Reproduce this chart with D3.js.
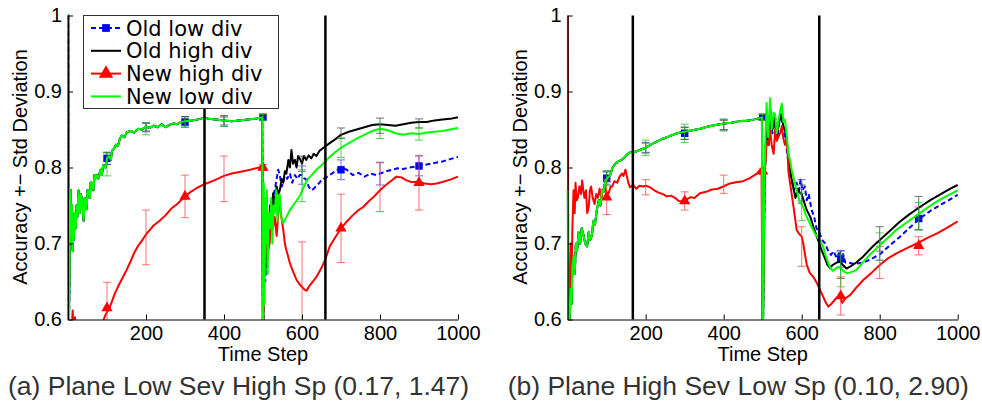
<!DOCTYPE html>
<html>
<head>
<meta charset="utf-8">
<script src="https://cdn.jsdelivr.net/npm/d3@7"></script>
<style>
  body { margin: 0; background: #fff; }
  text { font-family: "Liberation Sans", Arial, sans-serif; }
</style>
</head>
<body>
<svg id="chart" width="982" height="408"></svg>
<script>
// ---------- data ----------
// time steps with a marker on the blue / red series
const markerSteps = [100, 300, 500, 700, 900];
const xTicks = [200, 400, 600, 800, 1000];
const yTicks = [0.6, 0.7, 0.8, 0.9, 1];
const seriesNames = ["Old low div", "Old high div", "New high div", "New low div"];

// panel (a): shared part of the three overlapping curves before step 500
const leftEarly = [[0,1.0],[1,1.0],[2,0.58],[4,0.66],[5,0.74],[6,0.70],[7,0.77],[8,0.72],[10,0.75],[12,0.69],
  [14,0.73],[15,0.705],[17,0.74],[20,0.72],[22,0.75],[24,0.735],[27,0.77],[30,0.74],[33,0.765],[35,0.76],
  [38,0.745],[40,0.73],[43,0.76],[45,0.755],[48,0.745],[50,0.77],[53,0.77],[56,0.76],[58,0.78],[62,0.78],
  [65,0.77],[68,0.79],[70,0.785],[74,0.79],[78,0.785],[83,0.797],[87,0.79],[90,0.803],[96,0.80],[100,0.812],
  [105,0.815],[110,0.81],[113,0.822],[118,0.825],[123,0.83],[128,0.828],[133,0.838],[138,0.842],[145,0.84],
  [150,0.846],[160,0.848],[170,0.846],[180,0.851],[190,0.85],[200,0.854],[210,0.852],[220,0.855],[230,0.853],
  [240,0.857],[250,0.853],[260,0.856],[270,0.858],[280,0.857],[290,0.86],[300,0.861],[320,0.862],[340,0.864],
  [350,0.866],[360,0.864],[380,0.863],[400,0.862],[420,0.861],[440,0.862],[460,0.863],[480,0.864],[498,0.866]];

const leftBlueLate = [[500,0.55],[503,0.70],[506,0.65],[510,0.72],[515,0.70],[520,0.74],[525,0.76],[530,0.77],
  [535,0.785],[539,0.797],[543,0.79],[548,0.775],[552,0.78],[557,0.795],[562,0.785],[569,0.792],[575,0.78],
  [582,0.79],[588,0.785],[594,0.79],[600,0.79],[605,0.786],[611,0.784],[617,0.775],[624,0.77],[630,0.772],
  [637,0.776],[645,0.78],[652,0.785],[659,0.786],[671,0.79],[685,0.795],[700,0.80],[715,0.797],[730,0.79],
  [745,0.793],[760,0.788],[775,0.792],[790,0.79],[800,0.792],[815,0.795],[830,0.797],[845,0.799],[860,0.798],
  [875,0.80],[890,0.801],[900,0.802],[920,0.804],[940,0.806],[960,0.808],[980,0.811],[1000,0.814]];

const leftBlackLate = [[500,0.55],[503,0.72],[506,0.66],[510,0.74],[514,0.70],[518,0.75],[522,0.73],[526,0.766],
  [530,0.75],[535,0.775],[540,0.765],[543,0.77],[548,0.785],[552,0.78],[556,0.795],[560,0.792],[565,0.81],
  [569,0.80],[573,0.823],[577,0.805],[582,0.81],[586,0.80],[590,0.815],[594,0.812],[600,0.805],[605,0.815],
  [611,0.81],[617,0.816],[624,0.812],[630,0.818],[637,0.815],[645,0.822],[655,0.826],[671,0.832],[685,0.837],
  [700,0.843],[720,0.847],[740,0.85],[760,0.853],[780,0.856],[800,0.857],[820,0.856],[840,0.855],[860,0.857],
  [880,0.859],[900,0.86],[920,0.86],[940,0.862],[960,0.863],[980,0.864],[1000,0.866]];

const leftGreenLate = [[500,0.55],[502,0.78],[504,0.62],[506,0.76],[508,0.70],[510,0.77],[512,0.66],[515,0.74],
  [518,0.72],[521,0.76],[524,0.70],[527,0.75],[530,0.74],[534,0.77],[537,0.73],[540,0.76],[543,0.765],[546,0.74],
  [549,0.73],[552,0.727],[560,0.735],[570,0.745],[580,0.752],[594,0.762],[605,0.775],[615,0.785],[625,0.79],
  [637,0.797],[650,0.803],[660,0.808],[671,0.814],[685,0.82],[700,0.826],[720,0.832],[740,0.838],[760,0.843],
  [780,0.848],[800,0.851],[820,0.849],[840,0.845],[860,0.843],[880,0.845],[900,0.844],[920,0.846],[940,0.847],
  [960,0.848],[980,0.85],[1000,0.852]];

const leftRed = [[0,0.94],[1,0.58],[10,0.59],[12,0.612],[14,0.59],[18,0.603],[20,0.58],[85,0.59],[95,0.605],
  [100,0.61],[105,0.614],[110,0.62],[120,0.634],[130,0.645],[140,0.655],[150,0.665],[160,0.676],[170,0.688],
  [180,0.697],[190,0.704],[200,0.712],[210,0.718],[220,0.724],[235,0.73],[250,0.737],[265,0.746],[280,0.752],
  [300,0.762],[315,0.768],[330,0.773],[350,0.778],[375,0.783],[400,0.789],[420,0.792],[440,0.794],[467,0.797],
  [490,0.80],[498,0.803],[500,0.55],[503,0.72],[506,0.68],[510,0.74],[513,0.69],[517,0.70],[521,0.74],[525,0.72],
  [530,0.735],[535,0.71],[540,0.745],[543,0.753],[547,0.735],[552,0.718],[556,0.70],[560,0.691],[565,0.682],
  [569,0.674],[578,0.662],[586,0.652],[596,0.645],[607,0.639],[612,0.638],[620,0.645],[628,0.65],[637,0.656],
  [648,0.666],[659,0.678],[671,0.696],[685,0.708],[700,0.72],[715,0.729],[730,0.737],[745,0.744],[757,0.748],
  [770,0.755],[785,0.762],[800,0.77],[815,0.777],[830,0.783],[842,0.788],[855,0.787],[868,0.783],[880,0.781],
  [900,0.781],[915,0.779],[930,0.778],[945,0.779],[960,0.781],[980,0.784],[1000,0.788]];

// error bars: [step, mean, std]
const leftBlueErr = [[100,0.812,0.008],[200,0.853,0.006],[300,0.86,0.007],[400,0.861,0.007],[500,0.866,0.004],
  [600,0.79,0.012],[700,0.797,0.013],[800,0.792,0.015],[900,0.802,0.013]];
const leftBlackErr = [[100,0.812,0.008],[200,0.853,0.005],[300,0.861,0.006],[400,0.862,0.006],[500,0.866,0.004],
  [600,0.805,0.01],[700,0.845,0.007],[800,0.855,0.01],[900,0.858,0.006]];
const leftRedErr = [[100,0.615,0.034],[200,0.708,0.036],[300,0.762,0.028],[400,0.785,0.03],[500,0.80,0.004],
  [600,0.645,0.057],[700,0.72,0.045],[800,0.774,0.032],[900,0.78,0.036]];
const leftGreenErr = [[100,0.804,0.015],[200,0.851,0.008],[300,0.859,0.006],[400,0.86,0.006],[500,0.866,0.004],
  [600,0.776,0.021],[700,0.826,0.013],[800,0.848,0.01],[900,0.844,0.008]];
const leftEvents = [350, 660];

// panel (b)
const rightEarly = [[0,0.77],[2,0.58],[5,0.6],[8,0.64],[10,0.62],[12,0.67],[15,0.683],[18,0.66],[21,0.70],
  [24,0.69],[28,0.715],[32,0.70],[36,0.72],[41,0.71],[45,0.70],[50,0.696],[54,0.715],[58,0.705],[62,0.71],
  [66,0.73],[70,0.725],[75,0.745],[80,0.757],[84,0.75],[88,0.77],[92,0.768],[97,0.783],[103,0.787],[109,0.79],
  [115,0.80],[122,0.805],[130,0.808],[139,0.81],[150,0.816],[160,0.82],[170,0.82],[185,0.823],[200,0.826],
  [220,0.832],[240,0.837],[260,0.841],[280,0.845],[300,0.847],[320,0.849],[340,0.851],[360,0.854],[380,0.856],
  [400,0.858],[420,0.859],[440,0.861],[467,0.862],[485,0.864],[498,0.866]];

const rightBlueLate = [[500,0.55],[505,0.78],[510,0.86],[515,0.83],[520,0.87],[525,0.845],[532,0.865],[538,0.84],
  [545,0.87],[552,0.85],[558,0.84],[565,0.81],[572,0.79],[580,0.77],[587,0.78],[592,0.765],[597,0.784],
  [602,0.77],[608,0.775],[613,0.757],[618,0.765],[625,0.745],[632,0.735],[638,0.72],[645,0.715],[652,0.705],
  [660,0.70],[668,0.69],[675,0.685],[682,0.69],[690,0.68],[697,0.69],[700,0.68],[706,0.686],[712,0.675],
  [720,0.675],[735,0.673],[758,0.675],[780,0.68],[801,0.686],[825,0.697],[850,0.708],[875,0.72],[903,0.733],
  [930,0.743],[960,0.752],[1000,0.764]];

const rightBlackLate = [[500,0.55],[505,0.78],[510,0.87],[515,0.83],[520,0.875],[525,0.85],[530,0.865],[536,0.84],
  [541,0.86],[547,0.87],[553,0.855],[559,0.845],[565,0.82],[572,0.79],[578,0.775],[584,0.76],[590,0.772],
  [596,0.766],[600,0.765],[606,0.755],[612,0.745],[617,0.74],[622,0.735],[630,0.722],[638,0.71],[645,0.70],
  [652,0.69],[660,0.68],[666,0.672],[672,0.668],[680,0.672],[690,0.675],[698,0.676],[705,0.672],[715,0.667],
  [725,0.67],[740,0.675],[758,0.683],[780,0.695],[801,0.705],[825,0.716],[850,0.728],[875,0.738],[903,0.748],
  [930,0.757],[960,0.766],[980,0.772],[1000,0.777]];

const rightGreenLate = [[500,0.55],[505,0.80],[510,0.885],[514,0.84],[519,0.891],[523,0.85],[528,0.872],
  [532,0.87],[536,0.845],[540,0.86],[545,0.875],[549,0.884],[553,0.86],[557,0.863],[562,0.84],[566,0.818],
  [570,0.81],[574,0.797],[580,0.785],[587,0.77],[595,0.755],[604,0.748],[610,0.738],[617,0.731],[625,0.722],
  [634,0.713],[645,0.705],[655,0.696],[662,0.683],[672,0.669],[680,0.664],[690,0.668],[698,0.669],[706,0.664],
  [715,0.661],[725,0.662],[740,0.665],[758,0.676],[780,0.688],[801,0.698],[820,0.707],[843,0.718],[870,0.728],
  [903,0.74],[925,0.748],[946,0.755],[970,0.762],[1000,0.77]];

const rightRed = [[0,1.0],[2,0.58],[3,0.64],[5,0.62],[8,0.70],[10,0.656],[12,0.72],[15,0.77],[18,0.74],[20,0.78],
  [23,0.757],[26,0.76],[30,0.775],[34,0.765],[37,0.783],[40,0.77],[43,0.76],[47,0.77],[50,0.74],[54,0.748],
  [57,0.77],[60,0.775],[64,0.76],[69,0.752],[73,0.765],[77,0.76],[82,0.772],[86,0.758],[90,0.77],[95,0.776],
  [100,0.766],[105,0.766],[110,0.775],[114,0.775],[120,0.782],[127,0.78],[133,0.788],[139,0.792],[143,0.789],
  [148,0.797],[152,0.788],[156,0.779],[160,0.774],[168,0.777],[176,0.772],[184,0.776],[193,0.775],[200,0.776],
  [211,0.774],[222,0.77],[233,0.767],[244,0.765],[254,0.762],[265,0.763],[275,0.76],[285,0.756],[296,0.755],
  [305,0.758],[315,0.761],[325,0.76],[339,0.766],[355,0.768],[370,0.771],[385,0.772],[399,0.775],[416,0.779],
  [435,0.781],[450,0.782],[467,0.786],[485,0.792],[497,0.799],[500,0.55],[503,0.78],[506,0.801],[510,0.83],
  [515,0.83],[519,0.849],[523,0.83],[528,0.818],[532,0.85],[536,0.835],[540,0.84],[545,0.846],[549,0.854],
  [553,0.838],[557,0.83],[562,0.84],[566,0.795],[570,0.78],[574,0.766],[580,0.745],[587,0.718],[593,0.713],
  [600,0.709],[604,0.70],[608,0.687],[613,0.672],[621,0.661],[630,0.656],[639,0.648],[647,0.639],[655,0.63],
  [662,0.622],[668,0.617],[675,0.62],[685,0.626],[692,0.63],[698,0.63],[704,0.622],[712,0.628],[724,0.632],
  [740,0.642],[758,0.652],[780,0.662],[801,0.672],[820,0.68],[843,0.687],[870,0.694],[903,0.702],[925,0.708],
  [946,0.713],[970,0.72],[1000,0.729]];

const rightBlueErr = [[100,0.786,0.008],[200,0.826,0.006],[300,0.845,0.008],[400,0.856,0.007],[500,0.866,0.004],
  [600,0.77,0.014],[700,0.68,0.011],[800,0.69,0.012],[900,0.733,0.015]];
const rightBlackErr = [[100,0.788,0.007],[200,0.826,0.007],[300,0.845,0.008],[400,0.856,0.006],[500,0.866,0.004],
  [600,0.765,0.012],[700,0.672,0.018],[800,0.706,0.016],[900,0.74,0.022]];
const rightRedErr = [[100,0.761,0.023],[200,0.774,0.01],[300,0.756,0.012],[400,0.778,0.012],[500,0.795,0.004],
  [600,0.696,0.026],[700,0.631,0.025],[800,0.675,0.021],[900,0.697,0.012]];
const rightGreenErr = [[100,0.786,0.01],[200,0.826,0.01],[300,0.845,0.012],[400,0.856,0.008],[500,0.866,0.004],
  [600,0.748,0.018],[700,0.664,0.021],[800,0.696,0.018],[900,0.736,0.018]];
const rightEvents = [167, 645];

const captions = ["(a) Plane Low Sev High Sp (0.17, 1.47)", "(b) Plane High Sev Low Sp (0.10, 2.90)"];

// ---------- drawing ----------
const svg = d3.select("#chart");
const colors = ["#0000ff", "#000000", "#ff0000", "#00ff00"];
const barColors = ["#4040ff", "#444444", "#ff4040", "#20c020"];

// one panel: series in legend order (blue, black, red, green)
function drawPanel(left, series, errs, events, caption, showLegend, id)
{
  const x = d3.scaleLinear().domain([0, 1000]).range([left, left + 390]);
  const y = d3.scaleLinear().domain([0.6, 1]).range([319.5, 15.5]);
  const g = svg.append("g");

  // clip everything to the plot box
  g.append("clipPath").attr("id", "clip" + id)
    .append("rect")
    .attr("x", left - 1).attr("y", 14)
    .attr("width", 392).attr("height", 306);

  const plot = g.append("g").attr("clip-path", "url(#clip" + id + ")");
  const line = d3.line()
    .x(function (d) { return x(d[0]); })
    .y(function (d) { return y(d[1]); });

  series.forEach(function (s, i)
  {
    plot.append("path")
      .attr("d", line(s))
      .style("fill", "none")
      .style("stroke", colors[i])
      .style("stroke-width", 2)
      .style("stroke-dasharray", i == 0 ? "5,3" : null)
      .style("stroke-linejoin", "round");

    // error bars with small caps
    const eb = plot.append("g")
      .style("stroke", barColors[i])
      .style("stroke-width", 1)
      .style("stroke-opacity", 0.75);
    errs[i].forEach(function (e)
    {
      const cx = x(e[0]);
      const lo = y(e[1] - e[2]), hi = y(e[1] + e[2]);
      eb.append("line").attr("x1", cx).attr("x2", cx).attr("y1", lo).attr("y2", hi);
      eb.append("line").attr("x1", cx - 4).attr("x2", cx + 4).attr("y1", lo).attr("y2", lo);
      eb.append("line").attr("x1", cx - 4).attr("x2", cx + 4).attr("y1", hi).attr("y2", hi);
    });

    // markers on old low div (squares) and new high div (triangles)
    if (i == 0 || i == 2)
    {
      const sym = d3.symbol().type(i == 0 ? d3.symbolSquare : d3.symbolTriangle).size(55);
      errs[i].filter(function (e) { return markerSteps.indexOf(e[0]) >= 0; })
        .forEach(function (e)
        {
          plot.append("path")
            .attr("d", sym())
            .attr("transform", "translate(" + x(e[0]) + "," + y(e[1]) + ")")
            .style("fill", colors[i]);
        });
    }
  });

  // vertical event lines
  events.forEach(function (t)
  {
    g.append("line")
      .attr("x1", x(t)).attr("x2", x(t))
      .attr("y1", y(1)).attr("y2", y(0.6))
      .style("stroke", "#000")
      .style("stroke-width", 2.5);
  });

  // axes, ticks pointing inward
  const ya = g.append("g")
    .attr("transform", "translate(" + left + ",0)")
    .call(d3.axisLeft(y).tickValues(yTicks)
      .tickFormat(function (d) { return d == 1 ? "1" : d.toFixed(1); })
      .tickSizeInner(-5).tickSizeOuter(0).tickPadding(6));
  const xa = g.append("g")
    .attr("transform", "translate(0,319.5)")
    .call(d3.axisBottom(x).tickValues(xTicks).tickFormat(d3.format("d"))
      .tickSizeInner(-5).tickSizeOuter(0).tickPadding(6));
  [ya, xa].forEach(function (a)
  {
    a.selectAll("text").style("font-size", "20px").style("font-family", "'Liberation Sans', Arial, sans-serif").style("fill", "#000");
    a.selectAll("path, line").style("stroke", "#000");
  });

  g.append("text")
    .attr("x", left + 195).attr("y", 361)
    .attr("text-anchor", "middle")
    .style("font-size", "20px")
    .text("Time Step");

  g.append("text")
    .attr("transform", "translate(" + (left - 41) + ",167) rotate(-90)")
    .attr("text-anchor", "middle")
    .style("font-size", "20px")
    .text("Accuracy +\u2212 Std Deviation");

  g.append("text")
    .attr("x", left - 60).attr("y", 395)
    .style("font-size", "26.5px")
    .style("fill", "#333")
    .text(caption);

  if (showLegend)
  {
    const lg = g.append("g");
    lg.append("rect")
      .attr("x", 83.5).attr("y", 15.5).attr("width", 195).attr("height", 93)
      .style("fill", "#fff").style("stroke", "#333").style("stroke-width", 1);
    seriesNames.forEach(function (name, i)
    {
      const ry = 28 + i * 22.8;
      lg.append("line")
        .attr("x1", 91).attr("x2", 121).attr("y1", ry).attr("y2", ry)
        .style("stroke", colors[i]).style("stroke-width", 2)
        .style("stroke-dasharray", i == 0 ? "5,3" : null);
      if (i == 0 || i == 2)
      {
        lg.append("path")
          .attr("d", d3.symbol().type(i == 0 ? d3.symbolSquare : d3.symbolTriangle).size(i == 0 ? 60 : 90)())
          .attr("transform", "translate(106," + ry + ")")
          .style("fill", colors[i]);
      }
      lg.append("text")
        .attr("x", 126).attr("y", ry + 7.5)
        .style("font-family", "'DejaVu Sans', sans-serif")
        .style("font-size", "21px")
        .text(name);
    });
  }
}

drawPanel(68,
  [leftEarly.concat(leftBlueLate), leftEarly.concat(leftBlackLate), leftRed, leftEarly.concat(leftGreenLate)],
  [leftBlueErr, leftBlackErr, leftRedErr, leftGreenErr],
  leftEvents, captions[0], true, "a");

drawPanel(567.7,
  [rightEarly.concat(rightBlueLate), rightEarly.concat(rightBlackLate), rightRed, rightEarly.concat(rightGreenLate)],
  [rightBlueErr, rightBlackErr, rightRedErr, rightGreenErr],
  rightEvents, captions[1], false, "b");
</script>
</body>
</html>
